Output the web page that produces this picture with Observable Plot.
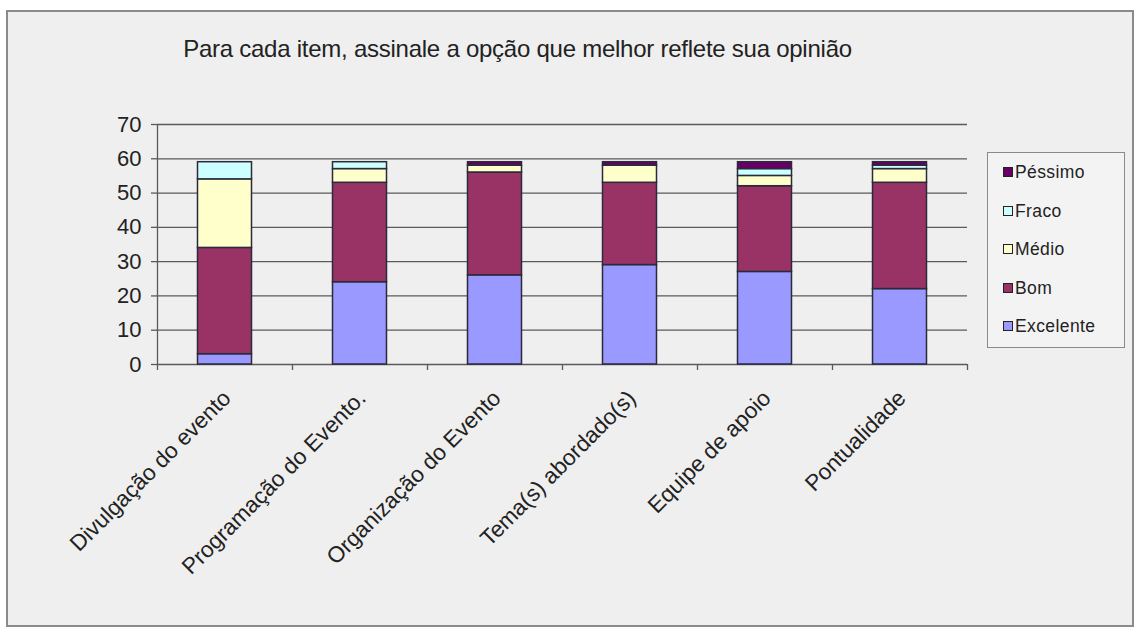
<!DOCTYPE html>
<html>
<head>
<meta charset="utf-8">
<script src="https://cdn.jsdelivr.net/npm/d3@7"></script>
<script src="https://cdn.jsdelivr.net/npm/@observablehq/plot@0.6"></script>
<style>
  html, body { margin: 0; padding: 0; background: #ffffff; }
  #wrap { position: relative; width: 1141px; height: 631px; overflow: hidden; font-family: "Liberation Sans", Arial, sans-serif; }
  #frame { position: absolute; left: 6px; top: 10px; width: 1128px; height: 617px; box-sizing: border-box; border: 2px solid #8a8a8a; background: #efefef; }
  #title { position: absolute; left: 0; width: 1035px; top: 35px; text-align: center; font-size: 24px; color: #222; letter-spacing: -0.25px; white-space: nowrap; }
  #chart { position: absolute; left: 0; top: 0; }
  #legend { position: absolute; left: 987px; top: 152px; width: 138px; height: 196px; box-sizing: border-box; border: 1.5px solid #8a8a8a; background: #f3f3f3; }
  .item { position: absolute; left: 15px; font-size: 17.5px; color: #222; line-height: 20px; white-space: nowrap; letter-spacing: 0.4px; }
  .sw { display: inline-block; width: 8px; height: 8px; border: 1px solid #222; margin-right: 2px; vertical-align: 1px; }
</style>
</head>
<body>
<div id="wrap">
  <div id="frame"></div>
  <div id="title">Para cada item, assinale a opção que melhor reflete sua opinião</div>
  <div id="chart"></div>
  <div id="legend"></div>
</div>
<script>
// ---- data ----
const categories = ["Divulgação do evento", "Programação do Evento.", "Organização do Evento", "Tema(s) abordado(s)", "Equipe de apoio", "Pontualidade"];
const seriesNames = ["Excelente", "Bom", "Médio", "Fraco", "Péssimo"];
const seriesColors = ["#9999ff", "#993366", "#ffffcc", "#ccffff", "#660066"];
const excelente = [3, 24, 26, 29, 27, 22];
const bom = [31, 29, 30, 24, 25, 31];
const medio = [20, 4, 2, 5, 3, 4];
const fraco = [5, 2, 0, 0, 2, 1];
const pessimo = [0, 0, 1, 1, 2, 1];
const yTicks = [0, 10, 20, 30, 40, 50, 60, 70];

// ---- table built from the arrays ----
const seriesValues = [excelente, bom, medio, fraco, pessimo];
const rows = [];
categories.forEach((c, i) => {
  let acc = 0;
  seriesNames.forEach((s, k) => {
    const v = seriesValues[k][i];
    rows.push({cat: c, idx: i, series: s, y1: acc, y2: acc + v});
    acc += v;
  });
});
const catIdx = categories.map((c, i) => i);
const boundaries = d3.range(categories.length + 1);

const plot = Plot.plot({
  width: 1141,
  height: 631,
  marginLeft: 157,
  marginRight: 174,
  marginTop: 124,
  marginBottom: 267,
  style: {background: "transparent", fontFamily: "'Liberation Sans', Arial, sans-serif", color: "#222", overflow: "visible"},
  x: {domain: [0, categories.length], axis: null},
  y: {domain: [0, 70], axis: null},
  color: {domain: seriesNames, range: seriesColors},
  marks: [
    Plot.gridY(yTicks, {stroke: "#5a5a5a", strokeOpacity: 1, strokeWidth: 1.3}),
    Plot.axisY(yTicks, {tickSize: 6, tickPadding: 10, fontSize: 22, stroke: "#5a5a5a", strokeWidth: 1.3}),
    Plot.axisX(boundaries, {tickSize: 6, tickFormat: () => "", stroke: "#5a5a5a", strokeWidth: 1.3}),
    Plot.ruleX([0], {stroke: "#5a5a5a", strokeWidth: 1.3}),
    Plot.rectY(rows.filter(d => d.y2 > d.y1), {
      x1: d => d.idx + 0.3, x2: d => d.idx + 0.7, y1: "y1", y2: "y2",
      fill: "series", stroke: "#2a2a3a", strokeWidth: 1.5
    }),
    Plot.text(catIdx, {
      x: i => i + 0.5, y: 0, text: i => categories[i],
      rotate: -45, textAnchor: "end", dx: 2, dy: 30, fontSize: 22.5, fill: "#222"
    })
  ]
});
document.getElementById("chart").appendChild(plot);

// ---- legend ----
const legend = document.getElementById("legend");
const order = seriesNames.map((s, k) => k).reverse();
order.forEach((k, j) => {
  const el = document.createElement("div");
  el.className = "item";
  el.style.top = (9 + j * 38.5) + "px";
  el.innerHTML = `<span class="sw" style="background:${seriesColors[k]}"></span>${seriesNames[k]}`;
  legend.appendChild(el);
});
</script>
</body>
</html>
